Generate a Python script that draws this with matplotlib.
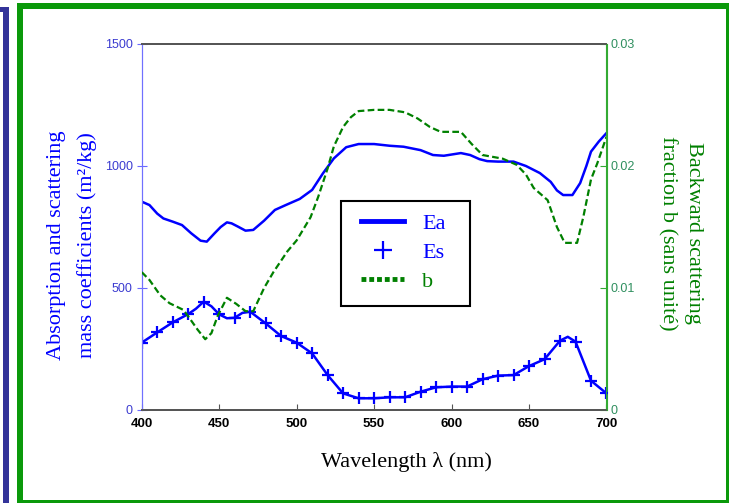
import matplotlib
matplotlib.use("Agg")
import matplotlib.pyplot as plt
import numpy as np
from matplotlib.patches import Rectangle
from matplotlib.lines import Line2D

# ---------------- data ----------------
ea_wl = [400, 405, 410, 414, 420, 426, 432, 438, 442, 447, 451, 455, 458, 462, 467, 472, 479, 486, 493, 502,
         510, 517, 524, 532, 540, 550, 560, 569, 580, 588, 595, 601, 606, 612, 618, 623, 630, 640, 648, 657,
         664, 668, 672, 678, 683, 687, 690, 695, 700]
ea_val = [854, 840, 805, 785, 772, 758, 724, 694, 690, 724, 750, 769, 765, 752, 735, 738, 776, 820, 840, 865,
          902, 970, 1031, 1077, 1090, 1090, 1083, 1079, 1065, 1045, 1042, 1048, 1053, 1045, 1028, 1020, 1018, 1018, 1000, 971,
          935, 900, 881, 881, 930, 1000, 1059, 1100, 1135]

es_wl = [400, 410, 420, 430, 435, 440, 445, 450, 455, 460, 465, 470, 480, 490, 500, 510, 520, 530, 540, 550,
         560, 570, 580, 590, 600, 610, 620, 630, 640, 650, 660, 670, 675, 680, 690, 700]
es_val = [276, 318, 359, 393, 415, 444, 425, 392, 376, 378, 398, 403, 355, 303, 276, 232, 143, 68, 48, 48,
          52, 52, 75, 93, 96, 96, 126, 141, 143, 180, 208, 284, 300, 280, 120, 68]

b_wl = [400, 405, 412, 418, 427, 431, 436, 441, 445, 449, 455, 461, 467, 472, 479, 485, 494, 500, 509, 514,
        520, 524, 530, 535, 540, 550, 560, 570, 578, 586, 593, 606, 613, 620, 633, 642, 648, 653, 662, 668,
        673, 681, 685, 690, 694, 700]
b_val = [0.0113, 0.01066, 0.0094, 0.00875, 0.0082, 0.0075, 0.0066, 0.0058, 0.0063, 0.0077, 0.0092, 0.0087, 0.0081, 0.0081, 0.0100, 0.0113, 0.0130, 0.0139, 0.0158, 0.0175,
         0.0198, 0.0216, 0.0232, 0.0240, 0.0245, 0.0246, 0.0246, 0.0244, 0.0239, 0.0232, 0.0228, 0.0228, 0.0218, 0.0209, 0.0206, 0.0201, 0.0193, 0.0182, 0.0172, 0.0150,
         0.0137, 0.0137, 0.0158, 0.0189, 0.0202, 0.0224]

x_ticks = [400, 450, 500, 550, 600, 650, 700]
left_ticks = [0, 500, 1000, 1500]
right_ticks = [0, 0.01, 0.02, 0.03]
right_ticklabels = ["0", "0.01", "0.02", "0.03"]

BLUE = "#0000ff"
GREEN = "#008000"

W, H = 729, 503
fig = plt.figure(figsize=(W / 100, H / 100), dpi=100)

def fx(px):
    return px / W

def fy(py):
    return 1 - py / H

# frames
fig.patches.append(Rectangle((fx(3), fy(503)), 6 / W, 496 / H, transform=fig.transFigure,
                             facecolor="#333399", edgecolor="none", zorder=0))
fig.patches.append(Rectangle((fx(0), fy(12)), 9 / W, 5 / H, transform=fig.transFigure,
                             facecolor="#333399", edgecolor="none", zorder=0))
g = "#0a990a"
fig.patches.append(Rectangle((fx(17), fy(9)), (729 - 17) / W, 6 / H, transform=fig.transFigure,
                             facecolor=g, edgecolor="none", zorder=0))
fig.patches.append(Rectangle((fx(17), fy(503)), 6 / W, 500 / H, transform=fig.transFigure,
                             facecolor=g, edgecolor="none", zorder=0))
fig.patches.append(Rectangle((fx(726), fy(503)), 3 / W, 500 / H, transform=fig.transFigure,
                             facecolor=g, edgecolor="none", zorder=0))
fig.patches.append(Rectangle((fx(17), fy(503)), (729 - 17) / W, 3 / H, transform=fig.transFigure,
                             facecolor=g, edgecolor="none", zorder=0))

ax = fig.add_axes([fx(141.7), fy(410), (606.5 - 141.7) / W, (410 - 44) / H])
ax2 = ax.twinx()

ax.plot(ea_wl, ea_val, color=BLUE, lw=1.8, zorder=3)
mk = [i for i, w in enumerate(es_wl) if w % 10 == 0]
ax.plot(es_wl, es_val, color=BLUE, lw=1.8, marker="+", markersize=9, markeredgewidth=1.6,
        markevery=mk, zorder=3)
ax2.plot(b_wl, b_val, color=GREEN, lw=1.6, ls=(0, (3, 1.5)), zorder=3)

ax.set_xlim(400, 700)
ax.set_ylim(0, 1500)
ax2.set_ylim(0, 0.03)
ax.set_xticks(x_ticks)
ax.set_xticklabels([str(v) for v in x_ticks], fontfamily="Liberation Sans", fontweight="bold",
                   fontsize=9.5, color="black")
ax.set_yticks(left_ticks)
ax.set_yticklabels([str(v) for v in left_ticks], fontfamily="Liberation Sans", fontsize=9, color="#3b3bd0")
ax2.set_yticks(right_ticks)
ax2.set_yticklabels(right_ticklabels, fontfamily="Liberation Sans", fontsize=9, color="#2f8f5f")

ax.tick_params(axis="x", direction="in", length=4, color="#555555", pad=6)
ax.tick_params(axis="y", direction="inout", length=7, color="#6a6aff", pad=3)
ax2.tick_params(axis="y", direction="in", length=4, color="#33aa33", pad=3)

for a in (ax, ax2):
    a.spines["top"].set_color("#555555")
    a.spines["bottom"].set_color("#555555")
    a.spines["top"].set_linewidth(1.3)
    a.spines["bottom"].set_linewidth(1.3)
    a.spines["left"].set_color("#7070ff")
    a.spines["right"].set_color("#33aa33")

# axis labels
fig.text(fx(57), fy(245), "Absorption and scattering", rotation=90, ha="center", va="center",
         fontfamily="Liberation Serif", fontsize=16, color=BLUE)
fig.text(fx(87), fy(245), "mass coefficients (m\u00b2/kg)", rotation=90, ha="center", va="center",
         fontfamily="Liberation Serif", fontsize=16, color=BLUE)
fig.text(fx(694), fy(233), "Backward scattering", rotation=270, ha="center", va="center",
         fontfamily="Liberation Serif", fontsize=16, color=GREEN)
fig.text(fx(667), fy(233), "fraction b (sans unit\u00e9)", rotation=270, ha="center", va="center",
         fontfamily="Liberation Serif", fontsize=16, color=GREEN)
fig.text(fx(406), fy(462), "Wavelength \u03bb (nm)", ha="center", va="center",
         fontfamily="Liberation Serif", fontsize=16, color="black")

# legend box
box = Rectangle((fx(341), fy(306)), (470 - 341) / W, (306 - 201) / H, transform=fig.transFigure,
                facecolor="white", edgecolor="black", linewidth=1.5, zorder=4, clip_on=False)
ax2.add_patch(box)

handles = [Line2D([], [], color=BLUE, lw=3.5),
           Line2D([], [], color=BLUE, lw=0, marker="+", markersize=13, markeredgewidth=1.6),
           Line2D([], [], color=GREEN, lw=3.5, ls=(0, (1, 0.6)))]
leg = ax2.legend(handles, ["Ea", "Es", "b"], loc="upper left",
                 bbox_to_anchor=(fx(341), fy(193)), bbox_transform=fig.transFigure,
                 prop={"family": "Liberation Serif", "size": 16}, frameon=False,
                 handlelength=1.95, handletextpad=0.8,
                 labelspacing=0.38, borderpad=0.9, borderaxespad=0)
leg.set_zorder(6)
for t, c in zip(leg.get_texts(), [BLUE, BLUE, GREEN]):
    t.set_color(c)

fig.savefig("out.png", dpi=100)
